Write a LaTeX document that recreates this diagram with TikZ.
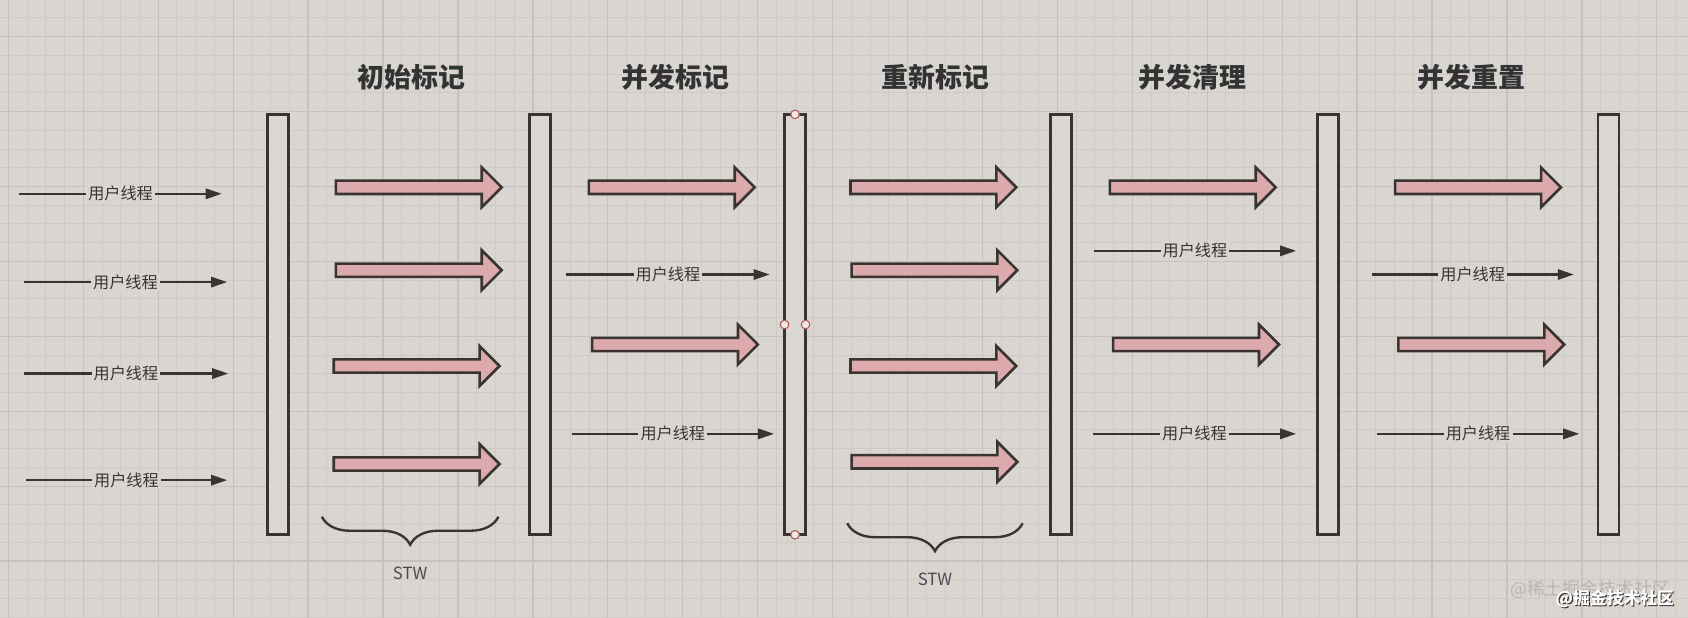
\documentclass[tikz,border=0pt]{standalone}
\usepackage{fontspec}
\newfontfamily\cjk{Noto Sans CJK SC}
\usetikzlibrary{arrows.meta,decorations.pathreplacing}

\definecolor{paper}{HTML}{D9D5D1}
\definecolor{gridminor}{HTML}{CECAC6}
\definecolor{gridmajor}{HTML}{C5C1BD}
\definecolor{barfill}{HTML}{DBD7D3}
\definecolor{markpink}{HTML}{DCAAAD}
\definecolor{ink}{HTML}{3A3431}
\definecolor{handlered}{HTML}{B05A5A}
\definecolor{handlefill}{HTML}{ECE8E4}
\definecolor{wmgrey}{HTML}{B9B5B1}

\begin{document}
\begin{tikzpicture}[
  x=0.5pt, y=-0.5pt,
  font=\cjk,
  gcbar/.style={draw=ink, fill=barfill, line width=1.25pt, minimum width=9.75pt,
    minimum height=195.25pt, inner sep=0pt, outer sep=0pt},
  userthread/.style={draw=ink, line width=1pt, -{Triangle[length=7.5pt, width=4.8pt]}},
  threadlabel/.style={fill=paper, text=ink, inner xsep=1pt, inner ysep=0.5pt,
    font=\cjk\fontsize{7.5pt}{9pt}\selectfont},
  phasetitle/.style={text=black!80, font=\cjk\bfseries\fontsize{12.5pt}{15pt}\selectfont},
  markarrow/.pic={\draw[draw=ink, fill=markpink, line width=1.2pt]
    (0,-6.2) -- (135.5,-6.2) -- (135.5,-18.5) -- (154,0) -- (135.5,18.5)
    -- (135.5,6.2) -- (0,6.2) -- cycle;},
  stwbrace/.style={draw=ink, line width=1.1pt, decorate,
    decoration={brace, mirror, amplitude=13pt}},
  stwlabel/.style={text=black!70, font=\cjk\fontsize{7.8pt}{9pt}\selectfont},
  handle/.style={draw=handlered, fill=handlefill, line width=0.5pt}
  ]
  \useasboundingbox (0,0) rectangle (1568,574);

  % Grid paper
  \fill[paper] (0,0) rectangle (1568,574);
  \foreach \i in {0,...,89}
    \draw[gridminor, line width=0.45pt] ({7.8+17.4*\i},0) -- ({7.8+17.4*\i},574);
  \foreach \j in {1,...,33}
    \draw[gridminor, line width=0.45pt] (0,{-0.8+17.4*\j}) -- (1568,{-0.8+17.4*\j});
  \foreach \i in {0,...,22}
    \draw[gridmajor, line width=0.6pt] ({7.8+69.6*\i},0) -- ({7.8+69.6*\i},574);
  \foreach \j in {0,...,7}
    \draw[gridmajor, line width=0.6pt] (0,{34+69.6*\j}) -- (1568,{34+69.6*\j});

  % Phase titles
  \node[phasetitle] (init)   at (382.5,72) {初始标记};
  \node[phasetitle] (conc)   at (627.5,72) {并发标记};
  \node[phasetitle] (remark) at (869,72)   {重新标记};
  \node[phasetitle] (sweep)  at (1107.5,72) {并发清理};
  \node[phasetitle] (reset)  at (1367,72)  {并发重置};

  % Safepoint bars
  \node[gcbar] (bar1) at (258.5,301.5) {};
  \node[gcbar] (bar2) at (501.5,301.5) {};
  \node[gcbar] (bar3) at (738.5,301.5) {};
  \node[gcbar] (bar4) at (985.5,301.5) {};
  \node[gcbar] (bar5) at (1233.5,301.5) {};
  \node[gcbar] (bar6) at (1494,301.5) {};
  \foreach \a in {north,south,west,east}
    \draw[handle] (bar3.\a) circle[radius=4];

  % GC threads
  \foreach \x/\y in {312/174, 312/251, 310/340, 310/431,
                     547/174, 550/320,
                     790/174, 791/251, 790/340, 791/429,
                     1031/174, 1034/320,
                     1296/174, 1299/320}
    \pic at (\x,\y) {markarrow};

  % User threads
  \foreach \n/\xa/\xb/\y in {a/18/206/180, b/22/211/262, c/22/212/347, d/24/211/446,
                             e/526/715/255, f/531/719/403,
                             g/1016/1204/233, h/1015/1204/403,
                             i/1274/1462/255, j/1279/1467/403} {
    \coordinate (\n s) at (\xa,\y);
    \coordinate (\n e) at (\xb,\y);
    \draw[userthread] (\n s) -- node[threadlabel] (\n l) {用户线程} (\n e);
  }

  % Stop the world
  \coordinate (b1s) at (299,480);
  \coordinate (b1e) at (463,480);
  \coordinate (b2s) at (787,486);
  \coordinate (b2e) at (950,486);
  \draw[stwbrace] (b1s) -- (b1e);
  \draw[stwbrace] (b2s) -- (b2e);
  \node[stwlabel] (stw1) at (381,533) {STW};
  \node[stwlabel] (stw2) at (868.5,538) {STW};

  % Watermark
  \node[text=wmgrey, font=\cjk\fontsize{8.3pt}{10pt}\selectfont] (wm1) at (1477,548) {@稀土掘金技术社区};
  \node[text=ink, font=\cjk\bfseries\fontsize{7.8pt}{9pt}\selectfont] (wm2s) at (1501,557.5) {@掘金技术社区};
  \node[text=white, font=\cjk\bfseries\fontsize{7.8pt}{9pt}\selectfont] (wm2) at (1500,556.5) {@掘金技术社区};
\end{tikzpicture}
\end{document}
